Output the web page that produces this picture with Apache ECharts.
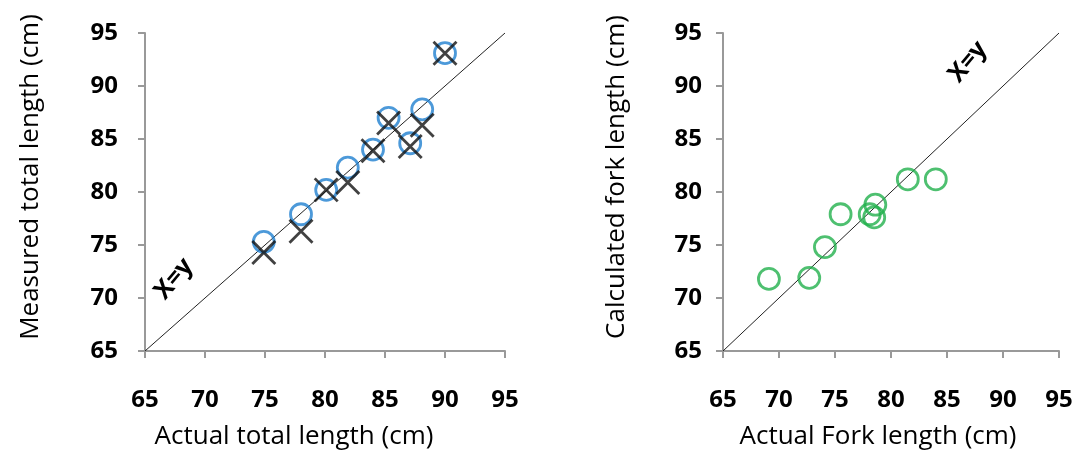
<!DOCTYPE html>
<html>
<head>
<meta charset="utf-8">
<script src="https://cdn.jsdelivr.net/npm/echarts@6/dist/echarts.min.js"></script>
<style>
  html, body { margin: 0; padding: 0; background: #fff; }
  #chart { width: 1079px; height: 462px; }
</style>
</head>
<body>
<div id="chart"></div>
<script>
// Left panel: total length (actual vs measured)
const totalActual   = [90.0, 88.1, 85.3, 87.1, 84.0, 81.9, 80.1, 78.0, 74.9];
const totalCircle   = [93.1, 87.8, 87.0, 84.6, 84.0, 82.3, 80.2, 77.9, 75.3];
const totalCross    = [93.1, 86.3, 86.5, 84.3, 83.9, 80.9, 80.2, 76.3, 74.3];

// Right panel: fork length (actual vs calculated)
const forkActual     = [69.1, 72.7, 74.1, 75.5, 78.1, 78.6, 78.5, 81.5, 84.0];
const forkCalculated = [71.8, 71.9, 74.8, 77.9, 77.9, 78.8, 77.6, 81.2, 81.2];

// x = y reference line
const identityLine = [65, 95];

const axisMin = 65, axisMax = 95, axisStep = 5;

const chart = echarts.init(document.getElementById('chart'));

const NAME_FONT = 'Open Sans';
const TICK_FONT = 'Open Sans';
const axisGrey = '#999999';

function pairs(xs, ys) {
    return xs.map((x, i) => [x, ys[i]]);
}

function makeX(gridIndex, name, namePad) {
    return {
        gridIndex: gridIndex,
        type: 'value',
        min: axisMin, max: axisMax, interval: axisStep,
        name: name,
        nameLocation: 'middle',
        nameGap: 73,
        nameTextStyle: { fontFamily: NAME_FONT, fontSize: 26, color: '#000', padding: [0, namePad, 0, 0] },
        axisLine: { show: true, onZero: false, lineStyle: { color: axisGrey, width: 2 } },
        axisTick: { show: true, inside: false, length: 7, lineStyle: { color: axisGrey, width: 2 } },
        axisLabel: { margin: 37, fontFamily: TICK_FONT, fontSize: 24, fontWeight: 'bold', color: '#000' },
        splitLine: { show: false }
    };
}

function makeY(gridIndex, name, labelMargin, nameGap) {
    return {
        gridIndex: gridIndex,
        type: 'value',
        min: axisMin, max: axisMax, interval: axisStep,
        name: name,
        nameLocation: 'middle',
        nameGap: nameGap,
        nameTextStyle: { fontFamily: NAME_FONT, fontSize: 26, color: '#000', padding: [0, 0, 0, 30] },
        axisLine: { show: true, onZero: false, lineStyle: { color: axisGrey, width: 2 } },
        axisTick: { show: true, inside: false, length: 7, lineStyle: { color: axisGrey, width: 2 } },
        axisLabel: { margin: labelMargin, fontFamily: TICK_FONT, fontSize: 24, fontWeight: 'bold', color: '#000' },
        splitLine: { show: false }
    };
}

function identitySeries(idx) {
    return {
        type: 'line',
        xAxisIndex: idx, yAxisIndex: idx,
        data: pairs(identityLine, identityLine),
        showSymbol: false,
        silent: true,
        lineStyle: { color: '#222', width: 1 },
        z: 1
    };
}

chart.setOption({
    animation: false,
    grid: [
        { left: 145, right: 574, top: 33, bottom: 111 },
        { left: 723, right: 20, top: 33, bottom: 111 }
    ],
    xAxis: [
        makeX(0, 'Actual total length (cm)', 62),
        makeX(1, 'Actual Fork length (cm)', 26)
    ],
    yAxis: [
        makeY(0, 'Measured total length (cm)', 27, 101),
        makeY(1, 'Calculated fork length (cm)', 21, 93)
    ],
    graphic: [
        {
            type: 'text', x: 174, y: 279, rotation: 0.87,
            style: { text: 'X=y', fontFamily: NAME_FONT, fontSize: 25, fontWeight: 'bold',
                     fill: '#000', align: 'center', verticalAlign: 'middle' }
        },
        {
            type: 'text', x: 968, y: 62, rotation: 0.87,
            style: { text: 'X=y', fontFamily: NAME_FONT, fontSize: 25, fontWeight: 'bold',
                     fill: '#000', align: 'center', verticalAlign: 'middle' }
        }
    ],
    series: [
        identitySeries(0),
        {
            name: 'Measured',
            type: 'scatter',
            xAxisIndex: 0, yAxisIndex: 0,
            data: pairs(totalActual, totalCircle),
            symbol: 'circle',
            symbolSize: 21,
            itemStyle: { color: 'rgba(0,0,0,0)', borderColor: '#1f7fd0', borderWidth: 2.8 },
            z: 3
        },
        {
            name: 'Estimated',
            type: 'scatter',
            xAxisIndex: 0, yAxisIndex: 0,
            data: pairs(totalActual, totalCross),
            symbol: 'path://M0,0L10,10M10,0L0,10',
            symbolSize: 23,
            itemStyle: { color: 'rgba(0,0,0,0)', borderColor: '#111', borderWidth: 2.8 },
            z: 4
        },
        identitySeries(1),
        {
            name: 'Fork',
            type: 'scatter',
            xAxisIndex: 1, yAxisIndex: 1,
            data: pairs(forkActual, forkCalculated),
            symbol: 'circle',
            symbolSize: 21,
            itemStyle: { color: 'rgba(0,0,0,0)', borderColor: '#22b04c', borderWidth: 2.8 },
            z: 3
        }
    ]
});
</script>
</body>
</html>
